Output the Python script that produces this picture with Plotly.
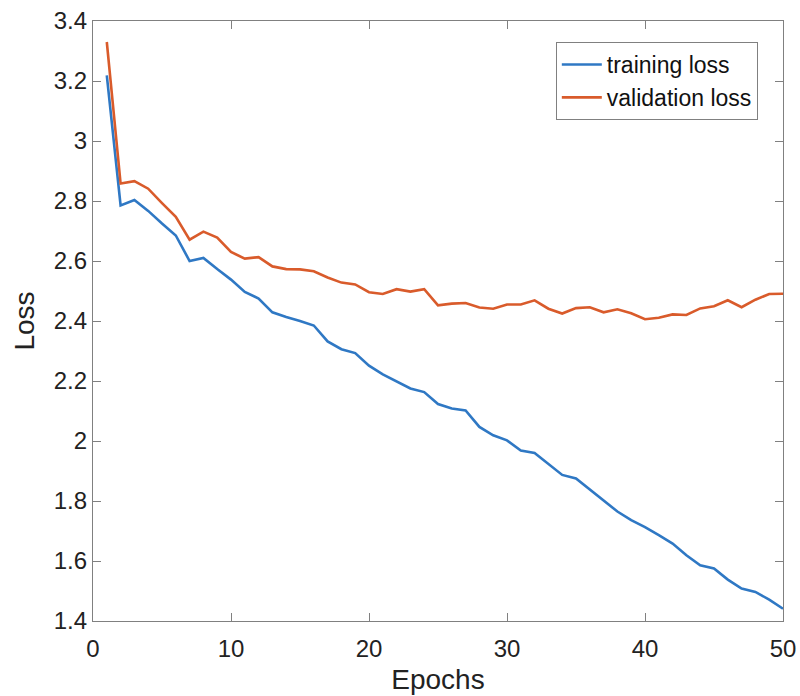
import plotly.graph_objects as go

epochs = list(range(1, 51))
training_loss = [3.219, 2.785, 2.803, 2.767, 2.725, 2.685, 2.600, 2.610, 2.573, 2.538,
                 2.497, 2.475, 2.429, 2.413, 2.400, 2.385, 2.332, 2.306, 2.293, 2.251,
                 2.222, 2.199, 2.175, 2.163, 2.123, 2.108, 2.102, 2.047, 2.019, 2.002,
                 1.968, 1.960, 1.925, 1.887, 1.875, 1.838, 1.800, 1.765, 1.736, 1.713,
                 1.686, 1.658, 1.619, 1.586, 1.575, 1.538, 1.508, 1.497, 1.471, 1.441]
validation_loss = [3.330, 2.858, 2.866, 2.841, 2.793, 2.747, 2.671, 2.698, 2.678, 2.630,
                   2.608, 2.613, 2.582, 2.573, 2.572, 2.566, 2.545, 2.528, 2.522, 2.496,
                   2.490, 2.506, 2.498, 2.506, 2.452, 2.458, 2.460, 2.445, 2.441, 2.455,
                   2.455, 2.469, 2.441, 2.425, 2.443, 2.446, 2.429, 2.439, 2.426, 2.406,
                   2.411, 2.422, 2.420, 2.442, 2.449, 2.469, 2.446, 2.471, 2.490, 2.491]

x_ticks = [0, 10, 20, 30, 40, 50]
y_ticks = [1.4, 1.6, 1.8, 2.0, 2.2, 2.4, 2.6, 2.8, 3.0, 3.2, 3.4]
y_tick_text = ["1.4", "1.6", "1.8", "2", "2.2", "2.4", "2.6", "2.8", "3", "3.2", "3.4"]

font_family = "Liberation Sans, Arial, Helvetica, sans-serif"
axis_color = "#808080"

fig = go.Figure()
fig.add_trace(go.Scatter(x=epochs, y=training_loss, mode="lines", name="training loss",
                         line=dict(color="#2F78C4", width=2.6)))
fig.add_trace(go.Scatter(x=epochs, y=validation_loss, mode="lines", name="validation loss",
                         line=dict(color="#D95B2B", width=2.6)))

axis_common = dict(showline=True, linecolor=axis_color, linewidth=1.2, mirror="allticks",
                   ticks="inside", ticklen=8, tickcolor=axis_color, tickwidth=1.2,
                   showgrid=False, zeroline=False, automargin=False,
                   tickfont=dict(family=font_family, size=24, color="#222222"))

fig.update_xaxes(range=[0, 50], tickvals=x_ticks, ticktext=[str(t) for t in x_ticks],
                 ticklabelstandoff=6,
                 title=dict(text="Epochs", font=dict(family=font_family, size=28, color="#222222"),
                            standoff=8),
                 **axis_common)
fig.update_yaxes(range=[1.4, 3.4], tickvals=y_ticks, ticktext=y_tick_text,
                 title=dict(text="Loss", font=dict(family=font_family, size=28, color="#222222"),
                            standoff=10),
                 **axis_common)

fig.update_layout(
    width=800, height=696,
    margin=dict(l=93, r=17, t=21, b=75),
    plot_bgcolor="white", paper_bgcolor="white",
    legend=dict(x=0.9635, y=0.965, xanchor="right", yanchor="top",
                bgcolor="white", bordercolor=axis_color, borderwidth=1,
                font=dict(family=font_family, size=23, color="#111111"),
                itemwidth=40, tracegroupgap=4),
    showlegend=True,
)

fig.write_html("out.html")
